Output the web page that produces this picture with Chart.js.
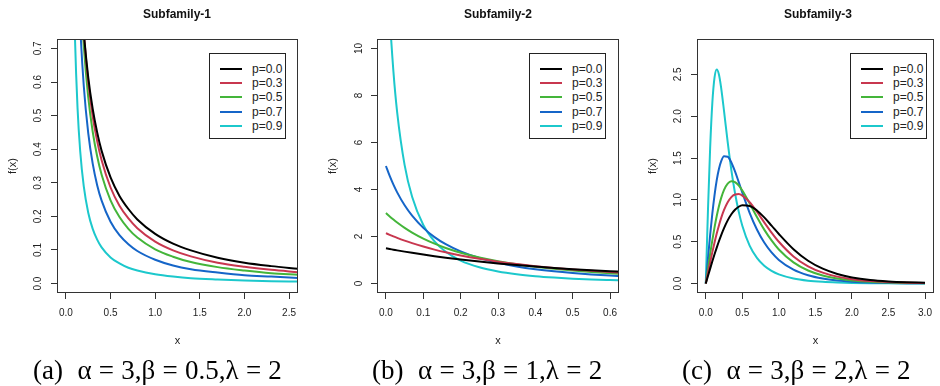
<!DOCTYPE html>
<html>
<head>
<meta charset="utf-8">
<script src="https://cdn.jsdelivr.net/npm/chart.js@4.4.1/dist/chart.umd.min.js"></script>
<style>
  body { margin: 0; background: #fff; width: 940px; height: 386px; overflow: hidden; position: relative;
         font-family: "Liberation Sans", Arial, sans-serif; }
  canvas { position: absolute; top: 0; }
  .title { position: absolute; top: 7px; width: 240px; text-align: center; font-weight: bold; font-size: 12px; color: #111; }
  .legend { position: absolute; top: 53px; width: 75px; height: 84px; border: 1px solid #222; background: #fff; }
  .legend .line { position: absolute; left: 10px; width: 22px; height: 2px; }
  .legend .txt { position: absolute; left: 42px; font-size: 12px; line-height: 14px; color: #222; }
  .caption { position: absolute; top: 357px; font-family: "Liberation Serif", "Times New Roman", serif;
             font-size: 27px; line-height: 27px; white-space: pre; word-spacing: 0.5px; color: #000; }
</style>
</head>
<body>
<canvas id="c1" width="310" height="360" style="left:0px"></canvas>
<canvas id="c2" width="310" height="360" style="left:320px"></canvas>
<canvas id="c3" width="300" height="360" style="left:640px"></canvas>

<div class="title" style="left:57px">Subfamily-1</div>
<div class="title" style="left:378px">Subfamily-2</div>
<div class="title" style="left:698px">Subfamily-3</div>

<div class="legend" id="leg1" style="left:209px"></div>
<div class="legend" id="leg2" style="left:529px"></div>
<div class="legend" id="leg3" style="left:850px"></div>

<div class="caption" style="left:33px">(a)  α = 3,β = 0.5,λ = 2</div>
<div class="caption" style="left:372px">(b)  α = 3,β = 1,λ = 2</div>
<div class="caption" style="left:682px">(c)  α = 3,β = 2,λ = 2</div>

<script>
// series names and colours
const pLabels = ['p=0.0', 'p=0.3', 'p=0.5', 'p=0.7', 'p=0.9'];
const lineColors = ['#000000', '#C8374F', '#44B53A', '#1565C8', '#1CC8CC'];

// Subfamily-1 (beta = 0.5)
const x1 = [0.03, 0.05, 0.08, 0.1, 0.13, 0.16, 0.2, 0.25, 0.3, 0.35, 0.4, 0.5, 0.6, 0.7, 0.8, 1.0, 1.2, 1.4, 1.7, 2.0, 2.3, 2.6];
const f1p0 = [3.106, 2.195, 1.562, 1.318, 1.072, 0.904, 0.748, 0.614, 0.520, 0.450, 0.395, 0.316, 0.261, 0.222, 0.191, 0.148, 0.119, 0.099, 0.077, 0.062, 0.052, 0.044];
const f1p3 = [3.704, 2.515, 1.716, 1.418, 1.123, 0.927, 0.749, 0.600, 0.498, 0.424, 0.367, 0.286, 0.232, 0.194, 0.165, 0.125, 0.099, 0.081, 0.062, 0.050, 0.041, 0.034];
const f1p5 = [4.170, 2.712, 1.773, 1.434, 1.107, 0.895, 0.708, 0.555, 0.452, 0.379, 0.324, 0.248, 0.198, 0.163, 0.137, 0.102, 0.080, 0.064, 0.049, 0.039, 0.031, 0.026];
const f1p7 = [4.513, 2.735, 1.673, 1.311, 0.975, 0.767, 0.588, 0.448, 0.357, 0.293, 0.247, 0.184, 0.144, 0.117, 0.097, 0.071, 0.054, 0.043, 0.033, 0.025, 0.021, 0.017];
const f1p9 = [3.486, 1.843, 1.002, 0.745, 0.523, 0.394, 0.289, 0.211, 0.163, 0.131, 0.108, 0.078, 0.060, 0.047, 0.039, 0.028, 0.021, 0.016, 0.012, 0.009, 0.007, 0.006];

// Subfamily-2 (beta = 1)
const x2 = [0, 0.01, 0.02, 0.03, 0.05, 0.07, 0.1, 0.13, 0.16, 0.2, 0.25, 0.3, 0.35, 0.4, 0.45, 0.5, 0.55, 0.6, 0.63];
const f2p0 = [1.5, 1.470, 1.442, 1.413, 1.359, 1.307, 1.234, 1.166, 1.103, 1.025, 0.936, 0.858, 0.787, 0.723, 0.666, 0.614, 0.568, 0.525, 0.502];
const f2p3 = [2.143, 2.074, 2.008, 1.945, 1.828, 1.720, 1.574, 1.445, 1.330, 1.195, 1.052, 0.932, 0.829, 0.742, 0.666, 0.600, 0.543, 0.493, 0.466];
const f2p5 = [3.0, 2.855, 2.721, 2.595, 2.368, 2.168, 1.912, 1.697, 1.516, 1.314, 1.112, 0.952, 0.822, 0.716, 0.628, 0.555, 0.493, 0.440, 0.412];
const f2p7 = [5.0, 4.578, 4.208, 3.880, 3.328, 2.886, 2.369, 1.978, 1.676, 1.368, 1.087, 0.883, 0.731, 0.613, 0.521, 0.448, 0.388, 0.339, 0.314];
const f2p9 = [15.0, 11.44, 9.012, 7.282, 5.037, 3.689, 2.492, 1.794, 1.352, 0.977, 0.692, 0.515, 0.397, 0.315, 0.256, 0.211, 0.177, 0.151, 0.137];

// Subfamily-3 (beta = 2)
const x3 = [0, 0.03, 0.06, 0.09, 0.12, 0.15, 0.18, 0.21, 0.25, 0.3, 0.35, 0.4, 0.45, 0.5, 0.6, 0.7, 0.8, 0.9, 1.0, 1.2, 1.4, 1.6, 1.8, 2.0, 2.25, 2.5, 2.75, 3.0];
const f3p0 = [0, 0.090, 0.179, 0.266, 0.350, 0.430, 0.506, 0.577, 0.663, 0.755, 0.828, 0.882, 0.918, 0.936, 0.928, 0.874, 0.791, 0.693, 0.593, 0.411, 0.273, 0.178, 0.115, 0.074, 0.043, 0.026, 0.016, 0.010];
const f3p3 = [0, 0.128, 0.254, 0.376, 0.491, 0.598, 0.695, 0.782, 0.880, 0.972, 1.033, 1.064, 1.069, 1.052, 0.973, 0.858, 0.732, 0.610, 0.500, 0.325, 0.207, 0.131, 0.083, 0.053, 0.031, 0.018, 0.011, 0.007];
const f3p5 = [0, 0.179, 0.354, 0.519, 0.671, 0.807, 0.924, 1.021, 1.120, 1.195, 1.223, 1.213, 1.173, 1.112, 0.959, 0.796, 0.645, 0.516, 0.408, 0.253, 0.156, 0.097, 0.061, 0.038, 0.022, 0.013, 0.008, 0.005];
const f3p7 = [0, 0.298, 0.581, 0.838, 1.058, 1.237, 1.370, 1.461, 1.520, 1.515, 1.447, 1.340, 1.216, 1.087, 0.846, 0.646, 0.490, 0.372, 0.283, 0.166, 0.099, 0.060, 0.037, 0.023, 0.013, 0.008, 0.005, 0.003];
const f3p9 = [0, 0.877, 1.626, 2.162, 2.463, 2.558, 2.499, 2.342, 2.061, 1.690, 1.357, 1.082, 0.863, 0.692, 0.454, 0.307, 0.213, 0.152, 0.110, 0.061, 0.035, 0.021, 0.013, 0.008, 0.0045, 0.0027, 0.0016, 0.001];

// axis limits and ticks
const xLim1 = [0, 2.5], yLim1 = [0, 0.7];
const xLim2 = [0, 0.6], yLim2 = [0, 10];
const xLim3 = [0, 3], yLim3 = [0, 2.81];
const xTicks1 = [0, 0.5, 1, 1.5, 2, 2.5];
const yTicks1 = [0, 0.1, 0.2, 0.3, 0.4, 0.5, 0.6, 0.7];
const xTicks2 = [0, 0.1, 0.2, 0.3, 0.4, 0.5, 0.6];
const yTicks2 = [0, 2, 4, 6, 8, 10];
const xTicks3 = [0, 0.5, 1, 1.5, 2, 2.5, 3];
const yTicks3 = [0, 0.5, 1, 1.5, 2, 2.5];

// box round the plot region, like R's box()
const boxPlugin = {
    id: 'box',
    afterDatasetsDraw(chart) {
        const a = chart.chartArea;
        const ctx = chart.ctx;
        ctx.save();
        ctx.strokeStyle = '#333';
        ctx.lineWidth = 1;
        ctx.strokeRect(Math.round(a.left) + 0.5, Math.round(a.top) + 0.5,
            Math.round(a.right - a.left) - 1, Math.round(a.bottom - a.top) - 1);
        ctx.restore();
    }
};

const tickFont = { family: '"Liberation Sans", Arial, sans-serif', size: 10 };

function makePanel(id, xs, series, xLim, yLim, xTicks, yTicks, xDigits, yDigits, rightPad) {
    const xPad = (xLim[1] - xLim[0]) * 0.04;
    const yPad = (yLim[1] - yLim[0]) * 0.04;
    const datasets = series.map((ys, i) => ({
        label: pLabels[i],
        data: xs.map((x, j) => ({ x: x, y: ys[j] })),
        borderColor: lineColors[i],
        borderWidth: 2,
        pointRadius: 0,
        fill: false,
        cubicInterpolationMode: 'monotone'
    }));
    return new Chart(document.getElementById(id), {
        type: 'line',
        data: { datasets: datasets },
        options: {
            responsive: false,
            animation: false,
            events: [],
            layout: { padding: { top: 39, right: rightPad, left: 0, bottom: 0 } },
            plugins: { legend: { display: false }, tooltip: { enabled: false } },
            scales: {
                x: {
                    type: 'linear',
                    min: xLim[0] - xPad,
                    max: xLim[1] + xPad,
                    afterBuildTicks: s => { s.ticks = xTicks.map(v => ({ value: v })); },
                    afterFit: s => { s.height = 67; },
                    grid: { drawOnChartArea: false, drawTicks: true, tickLength: 6, color: '#333' },
                    border: { display: false },
                    ticks: { color: '#222', font: tickFont, padding: 8, maxRotation: 0, autoSkip: false,
                             callback: v => v.toFixed(xDigits) },
                    title: { display: true, text: 'x', color: '#222', font: { size: 11 }, padding: { top: 0, bottom: 12 } }
                },
                y: {
                    type: 'linear',
                    min: yLim[0] - yPad,
                    max: yLim[1] + yPad,
                    afterBuildTicks: s => { s.ticks = yTicks.map(v => ({ value: v })); },
                    afterFit: s => { s.width = 57; },
                    grid: { drawOnChartArea: false, drawTicks: true, tickLength: 6, color: '#333' },
                    border: { display: false },
                    ticks: { color: '#222', font: tickFont, padding: 6, minRotation: 90, maxRotation: 90,
                             crossAlign: 'center', autoSkip: false, callback: v => v.toFixed(yDigits) },
                    title: { display: true, text: 'f(x)', color: '#222', font: { size: 11 }, padding: { top: 6, bottom: 0 } }
                }
            }
        },
        plugins: [boxPlugin]
    });
}

// HTML legend box
function makeLegend(id) {
    const box = document.getElementById(id);
    for (let i = 0; i < pLabels.length; i++) {
        const cy = 15 + i * 14.2;
        const line = document.createElement('div');
        line.className = 'line';
        line.style.top = (cy - 1) + 'px';
        line.style.background = lineColors[i];
        const txt = document.createElement('div');
        txt.className = 'txt';
        txt.style.top = (cy - 7) + 'px';
        txt.textContent = pLabels[i];
        box.appendChild(line);
        box.appendChild(txt);
    }
}

makePanel('c1', x1, [f1p0, f1p3, f1p5, f1p7, f1p9], xLim1, yLim1, xTicks1, yTicks1, 1, 1, 12);
makePanel('c2', x2, [f2p0, f2p3, f2p5, f2p7, f2p9], xLim2, yLim2, xTicks2, yTicks2, 1, 0, 11);
makePanel('c3', x3, [f3p0, f3p3, f3p5, f3p7, f3p9], xLim3, yLim3, xTicks3, yTicks3, 1, 1, 1);
makeLegend('leg1');
makeLegend('leg2');
makeLegend('leg3');
</script>
</body>
</html>
